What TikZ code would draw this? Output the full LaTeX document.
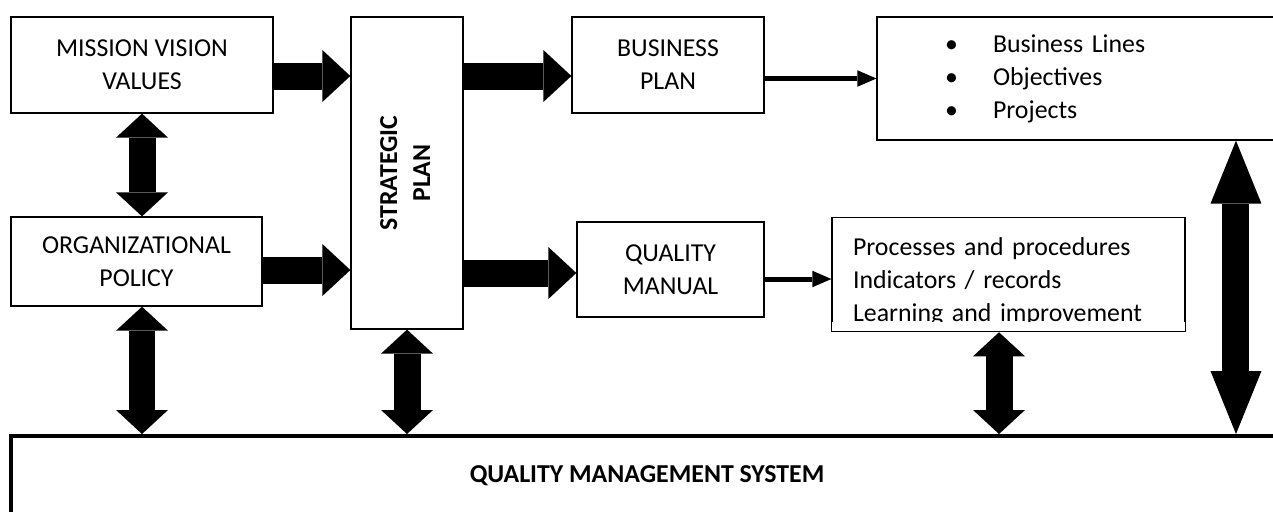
\documentclass[tikz,border=0pt]{standalone}
\usepackage{fontspec}
\setmainfont{Carlito}
\usetikzlibrary{arrows.meta}

\begin{document}
\begin{tikzpicture}[
        x=0.02cm, y=-0.02cm,
        block/.style={rectangle, draw, line width=0.75pt, align=center, font={\fontsize{14.7}{18.8}\selectfont}},
        big_arrow/.style={line width=0.54cm, -{Triangle[length=0.56cm,width=1.04cm,line width=0pt]}},
        both_arrow/.style={line width=0.54cm, {Triangle[length=0.48cm,width=1.04cm,line width=0pt]}-{Triangle[length=0.48cm,width=1.04cm,line width=0pt]}},
        tall_arrow/.style={line width=0.54cm, {Triangle[length=1.26cm,width=1.02cm,line width=0pt]}-{Triangle[length=1.26cm,width=1.02cm,line width=0pt]}},
        thin_arrow/.style={line width=0.1cm, -{Triangle[length=0.38cm,width=0.33cm,line width=0pt]}}
    ]
        \useasboundingbox (0,0) rectangle (1273,511);
        \clip (0,0) rectangle (1273,511);

        % Left column
        \node[block, minimum width=5.24cm, minimum height=1.92cm] (mission) at (142,65) {MISSION VISION\\VALUES};
        \node[block, minimum width=5.02cm, minimum height=1.78cm] (org_policy) at (136.5,261.5) {ORGANIZATIONAL\\POLICY};

        % Strategic plan
        \node[block, minimum width=2.24cm, minimum height=6.24cm] (strat_plan) at (407,173) {\rotatebox{90}{\bfseries\begin{tabular}{@{}c@{}}STRATEGIC\\PLAN\end{tabular}}};

        % Business branch
        \node[block, minimum width=3.84cm, minimum height=1.92cm] (bus_plan) at (668,65) {BUSINESS\\PLAN};
        \node[block, align=left, text width=5.54cm, inner xsep=1.36cm, minimum height=2.46cm] (bus_list) at (1083.5,78.5) {\makebox[0.96cm][l]{\textbullet}Business Lines\\\makebox[0.96cm][l]{\textbullet}Objectives\\\makebox[0.96cm][l]{\textbullet}Projects};

        % Quality branch
        \node[block, minimum width=3.74cm, minimum height=1.9cm] (qual_manual) at (670.5,269.5) {QUALITY\\MANUAL};
        \node[block, align=left, text width=6.22cm, inner xsep=0.42cm, minimum height=2.18cm] (proc_list) at (1008.5,274.5) {\rule{0pt}{0.64cm}Processes and procedures\\Indicators / records\\Learning and improvement};
        \fill[white] ([shift={(0.02cm,0.02cm)}]proc_list.south west) rectangle ([shift={(-0.02cm,0.2cm)}]proc_list.south east);

        % Base system
        \node[draw, line width=0.08cm, minimum width=25.44cm, minimum height=1.6cm, font={\fontsize{14.7}{18.8}\selectfont\bfseries}] (qms) at (647,476) {QUALITY MANAGEMENT SYSTEM};

        % Arrows
        \draw[big_arrow] ([yshift=-0.22cm]mission.east) -- ([yshift=-0.22cm]mission.east -| strat_plan.west);
        \draw[big_arrow] ([yshift=-0.17cm]org_policy.east) -- ([yshift=-0.17cm]org_policy.east -| strat_plan.west);
        \draw[big_arrow] ([yshift=-0.22cm]bus_plan.west -| strat_plan.east) -- ([yshift=-0.22cm]bus_plan.west);
        \draw[big_arrow] ([yshift=-0.07cm]qual_manual.west -| strat_plan.east) -- ([yshift=-0.07cm]qual_manual.west);
        \draw[thin_arrow] (bus_list.west -| bus_plan.east) -- (bus_list.west);
        \draw[thin_arrow] ([yshift=-0.09cm]proc_list.west -| qual_manual.east) -- ([yshift=-0.09cm]proc_list.west);

        \draw[both_arrow] (mission.south) -- (mission.south |- org_policy.north);
        \draw[both_arrow] ([xshift=0.11cm]org_policy.south) -- ([xshift=0.11cm]org_policy.south |- qms.north);
        \draw[both_arrow] (strat_plan.south) -- (strat_plan.south |- qms.north);
        \draw[both_arrow] ([xshift=-0.19cm]proc_list.south) -- ([xshift=-0.19cm]proc_list.south |- qms.north);
        \draw[tall_arrow] ([xshift=3.05cm]bus_list.south) -- ([xshift=3.05cm]bus_list.south |- qms.north);

    \end{tikzpicture}
\end{document}
